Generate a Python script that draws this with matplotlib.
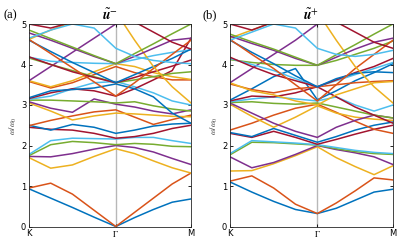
import numpy as np
import matplotlib.pyplot as plt

plt.rcParams['mathtext.fontset'] = 'stix'
plt.rcParams['font.family'] = 'DejaVu Sans'

# k-path sample positions: K -> Gamma -> M  (|Gamma M| / |K Gamma| = 0.866)
kpos = [0, 0.25, 0.5, 0.75, 1.0, 1.2165, 1.433, 1.6495, 1.866]
tick_pos = [0, 1.0, 1.866]
tick_labels = ['K', r'$\Gamma$', 'M']

# MATLAB default colour order
colors = ['#0072BD', '#D95319', '#EDB120', '#7E2F8E', '#77AC30', '#4DBEEE', '#A2142F']

# band frequencies (omega/omega_0)
bands_minus = [
    [0.93, 0.70, 0.47, 0.23, 0.00, 0.22, 0.42, 0.60, 0.68],
    [0.95, 1.07, 0.80, 0.40, 0.00, 0.35, 0.70, 1.05, 1.32],
    [1.70, 1.44, 1.52, 1.73, 1.92, 1.80, 1.62, 1.45, 1.32],
    [1.73, 1.72, 1.80, 1.91, 2.00, 1.95, 1.84, 1.68, 1.53],
    [1.75, 2.02, 2.10, 2.07, 2.02, 2.05, 2.03, 1.98, 1.97],
    [1.78, 2.12, 2.18, 2.17, 2.16, 2.20, 2.20, 2.12, 2.05],
    [2.45, 2.40, 2.38, 2.30, 2.18, 2.22, 2.30, 2.42, 2.50],
    [2.50, 2.38, 2.52, 2.45, 2.30, 2.38, 2.48, 2.53, 2.55],
    [2.49, 2.62, 2.73, 2.83, 2.88, 2.70, 2.52, 2.64, 2.75],
    [3.05, 2.85, 2.63, 2.73, 2.80, 2.78, 2.75, 2.72, 2.71],
    [3.08, 2.92, 2.82, 3.15, 3.02, 2.95, 2.85, 2.78, 2.88],
    [3.12, 3.12, 3.10, 3.08, 3.05, 3.08, 2.98, 2.90, 2.85],
    [3.14, 3.22, 3.40, 3.55, 3.58, 3.45, 3.30, 3.10, 3.00],
    [3.16, 3.30, 3.40, 3.35, 3.22, 3.40, 3.62, 3.85, 4.65],
    [3.18, 3.35, 3.38, 3.42, 3.52, 3.40, 3.20, 2.80, 2.55],
    [3.58, 3.42, 3.55, 3.75, 3.95, 3.80, 3.70, 3.62, 3.62],
    [3.60, 3.45, 3.60, 3.82, 4.02, 3.95, 3.80, 3.70, 3.63],
    [3.60, 3.95, 4.30, 4.65, 5.00, 5.20, 5.30, 5.30, 5.30],
    [4.16, 4.00, 3.85, 3.70, 3.55, 3.62, 3.70, 3.78, 3.82],
    [4.18, 4.08, 4.05, 4.03, 4.02, 4.12, 4.22, 4.30, 4.36],
    [4.19, 4.00, 3.82, 3.68, 3.55, 3.68, 3.82, 3.96, 4.11],
    [4.60, 4.32, 4.05, 3.80, 3.55, 3.75, 3.95, 4.15, 4.38],
    [4.62, 4.27, 3.92, 3.57, 3.22, 3.55, 3.90, 4.25, 4.60],
    [4.62, 4.85, 5.05, 5.20, 5.30, 4.60, 3.95, 3.45, 3.05],
    [4.78, 4.60, 4.40, 4.20, 4.02, 4.20, 4.40, 4.60, 4.65],
    [4.85, 4.64, 4.43, 4.22, 4.02, 4.27, 4.51, 4.76, 5.00],
    [4.65, 4.85, 5.00, 4.90, 4.40, 4.20, 4.10, 4.05, 4.02],
    [5.00, 4.90, 5.05, 5.20, 5.30, 5.05, 4.80, 4.55, 4.38],
]

# band frequencies (omega/omega_0)
bands_plus = [
    [1.10, 0.85, 0.62, 0.42, 0.32, 0.45, 0.65, 0.85, 0.92],
    [1.12, 1.25, 0.95, 0.55, 0.32, 0.58, 0.88, 1.20, 1.15],
    [1.37, 1.38, 1.55, 1.75, 1.97, 1.70, 1.48, 1.28, 1.50],
    [1.72, 1.45, 1.58, 1.78, 2.00, 1.90, 1.82, 1.72, 1.53],
    [1.77, 2.08, 2.07, 2.04, 2.01, 1.92, 1.85, 1.80, 1.78],
    [1.80, 2.12, 2.09, 2.06, 2.02, 1.95, 1.88, 1.83, 1.80],
    [2.30, 2.20, 2.35, 2.20, 2.03, 2.15, 2.28, 2.40, 2.50],
    [2.32, 2.22, 2.42, 2.25, 2.08, 2.22, 2.38, 2.50, 2.58],
    [2.38, 2.55, 2.75, 2.92, 3.02, 2.82, 2.60, 2.40, 2.30],
    [3.02, 2.72, 2.45, 2.70, 2.98, 2.80, 2.70, 2.65, 2.62],
    [3.05, 2.80, 2.55, 2.35, 2.20, 2.45, 2.62, 2.75, 2.68],
    [3.06, 3.08, 3.04, 3.02, 3.05, 2.95, 2.85, 2.75, 2.68],
    [3.08, 3.15, 3.20, 3.15, 3.10, 3.20, 3.00, 2.85, 3.00],
    [3.10, 3.22, 3.20, 3.30, 3.45, 3.20, 2.95, 2.75, 2.55],
    [3.12, 3.40, 3.70, 3.90, 3.13, 3.35, 3.60, 3.80, 4.02],
    [3.52, 3.38, 3.30, 3.40, 3.45, 3.50, 3.55, 3.58, 3.60],
    [3.55, 3.35, 3.25, 3.10, 3.00, 3.25, 3.40, 3.55, 3.58],
    [3.55, 3.90, 4.25, 4.60, 5.00, 5.20, 5.30, 5.30, 5.30],
    [4.12, 4.05, 4.00, 3.98, 3.98, 4.10, 4.25, 4.40, 4.58],
    [4.15, 4.00, 3.85, 3.65, 3.45, 3.60, 3.75, 3.90, 4.05],
    [4.18, 3.95, 3.75, 3.60, 3.45, 3.62, 3.80, 3.95, 4.15],
    [4.60, 4.30, 4.02, 3.72, 3.45, 3.65, 3.78, 3.82, 3.80],
    [4.62, 4.25, 3.90, 3.50, 3.10, 3.50, 3.90, 4.25, 4.60],
    [4.65, 4.85, 5.05, 5.20, 5.30, 4.60, 3.95, 3.45, 3.05],
    [4.70, 4.52, 4.35, 4.15, 3.98, 4.18, 4.38, 4.55, 4.65],
    [4.75, 4.56, 4.38, 4.18, 3.98, 4.24, 4.49, 4.75, 5.00],
    [4.60, 4.80, 5.00, 4.90, 4.40, 4.25, 4.20, 4.25, 4.35],
    [5.00, 4.85, 5.05, 5.20, 5.30, 5.05, 4.80, 4.55, 4.40],
]

fig = plt.figure(figsize=(3.99, 2.5), dpi=100)
ax1 = fig.add_axes([0.0727, 0.094, 0.406, 0.81])
ax2 = fig.add_axes([0.5764, 0.094, 0.4085, 0.81])

panels = [(ax1, bands_minus, r'$\tilde{\mathbfit{u}}^{-}$', '(a)', 0.008),
          (ax2, bands_plus, r'$\tilde{\mathbfit{u}}^{+}$', '(b)', 0.508)]

for ax, bands, title, tag, tx in panels:
    ax.axvline(1.0, color='#b8b8b8', lw=1.0, zorder=0)
    for i, band in enumerate(bands):
        ax.plot(kpos, band, color=colors[i % len(colors)], lw=1.1)
    ax.set_xlim(0, 1.866)
    ax.set_ylim(0, 5)
    ax.set_xticks(tick_pos)
    ax.set_xticklabels(tick_labels)
    ax.set_yticks([0, 1, 2, 3, 4, 5])
    ax.tick_params(direction='in', length=2.5, width=0.6, labelsize=6,
                   top=True, right=True, pad=2)
    for s in ax.spines.values():
        s.set_linewidth(0.6)
        s.set_color('#262626')
    ax.set_ylabel(r'$\omega/\omega_0$', fontsize=6, labelpad=1, color='#404040')
    ax.set_title(title, fontsize=10, pad=3)
    fig.text(tx, 0.94, tag, fontsize=9, family='Liberation Serif',
             ha='left', va='center')

fig.savefig('out.png', dpi=100)
